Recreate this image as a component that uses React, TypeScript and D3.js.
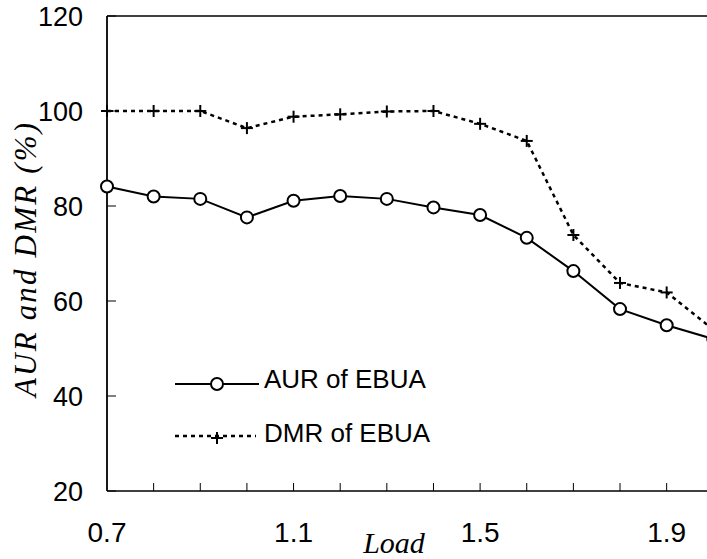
import React from "react";
import * as d3 from "d3";

const loads = [0.7, 0.8, 0.9, 1.0, 1.1, 1.2, 1.3, 1.4, 1.5, 1.6, 1.7, 1.8, 1.9, 2.0];
const aur = [84.1, 82.0, 81.5, 77.6, 81.1, 82.1, 81.5, 79.7, 78.1, 73.3, 66.3, 58.3, 54.9, 52.0];
const dmr = [100, 100, 100, 96.4, 98.8, 99.3, 99.9, 100, 97.3, 93.7, 73.9, 63.8, 61.8, 54.0];
const yTicks = [20, 40, 60, 80, 100, 120];
const xLabelTicks = [0.7, 1.1, 1.5, 1.9];
const xMinorTicks = [0.8, 0.9, 1.0, 1.1, 1.2, 1.3, 1.4, 1.5, 1.6, 1.7, 1.8, 1.9];
const seriesNames = ["AUR of EBUA", "DMR of EBUA"];
const yTitle = "AUR and DMR (%)";

const W = 707, H = 559;
const L = 107, T = 16, B = 491, R = 713.3;

export default function App() {
  const x = d3.scaleLinear().domain([0.7, 2.0]).range([L, R]);
  const y = d3.scaleLinear().domain([20, 120]).range([B, T]);
  const line = d3.line<number>().x((_, i) => x(loads[i])).y((d) => y(d));
  const sans = "'Liberation Sans', Arial, sans-serif";
  const serif = "'Liberation Serif', 'Times New Roman', serif";
  const cross = (cx: number, cy: number, key: any) => (
    <g key={key} stroke="#000" strokeWidth={2}>
      <line x1={cx - 6} x2={cx + 6} y1={cy} y2={cy} />
      <line x1={cx} x2={cx} y1={cy - 6} y2={cy + 6} />
    </g>
  );
  return (
    <svg width={W} height={H} style={{ position: "absolute", left: 0, top: 0, background: "#fff" }}>
      {/* frame */}
      <line x1={L} x2={W + 5} y1={T} y2={T} stroke="#000" strokeWidth={1.6} />
      <line x1={L} x2={W + 5} y1={B} y2={B} stroke="#000" strokeWidth={1.6} />
      <line x1={L} x2={L} y1={T} y2={B} stroke="#000" strokeWidth={1.8} />
      {/* y ticks */}
      {yTicks.map((t) => (
        <g key={t}>
          <line x1={L} x2={L + 9} y1={y(t)} y2={y(t)} stroke="#000" strokeWidth={1} />
          <text x={83} y={y(t)} dy="0.36em" textAnchor="end" fontFamily={sans} fontSize={27}>{t}</text>
        </g>
      ))}
      {/* x ticks */}
      {xMinorTicks.map((t) => (
        <line key={t} x1={x(t)} x2={x(t)} y1={B} y2={B - 8} stroke="#000" strokeWidth={1} />
      ))}
      {xLabelTicks.map((t) => (
        <text key={t} x={x(t)} y={542} textAnchor="middle" fontFamily={sans} fontSize={28}>{d3.format(".1f")(t)}</text>
      ))}
      {/* axis titles */}
      <text x={394} y={553} textAnchor="middle" fontFamily={serif} fontStyle="italic" fontSize={30}>Load</text>
      <text transform="translate(36,260) rotate(-90)" textAnchor="middle" fontFamily={serif} fontStyle="italic" fontSize={31} textLength={274} lengthAdjust="spacing">{yTitle}</text>
      {/* DMR series */}
      <path d={line(dmr) || ""} fill="none" stroke="#000" strokeWidth={2.5} strokeDasharray="4,4" />
      {dmr.map((v, i) => cross(x(loads[i]), y(v), "c" + i))}
      {/* AUR series */}
      <path d={line(aur) || ""} fill="none" stroke="#000" strokeWidth={2} />
      {aur.map((v, i) => (
        <circle key={i} cx={x(loads[i])} cy={y(v)} r={6} fill="#fff" stroke="#000" strokeWidth={2} />
      ))}
      {/* legend */}
      <line x1={175} x2={259} y1={384} y2={384} stroke="#000" strokeWidth={2} />
      <circle cx={217} cy={384} r={6} fill="#fff" stroke="#000" strokeWidth={2} />
      <text x={264} y={388} fontFamily={sans} fontSize={26}>{seriesNames[0]}</text>
      <line x1={175} x2={256} y1={436} y2={436} stroke="#000" strokeWidth={2.5} strokeDasharray="4,4" />
      {cross(217, 438, "lc")}
      <text x={264} y={442} fontFamily={sans} fontSize={26}>{seriesNames[1]}</text>
    </svg>
  );
}
